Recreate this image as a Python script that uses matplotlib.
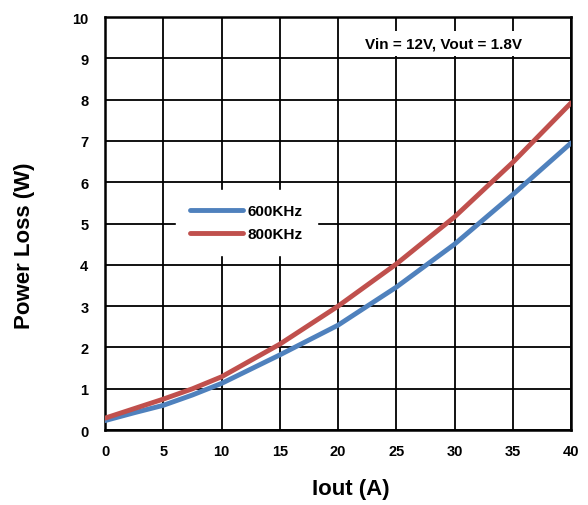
import numpy as np
import matplotlib
matplotlib.use("Agg")
import matplotlib.pyplot as plt

plt.rcParams["font.family"] = ["Liberation Sans", "DejaVu Sans"]
plt.rcParams["font.weight"] = "bold"

# Data
iout = [0, 2.5, 5, 7.5, 10, 15, 20, 25, 30, 35, 40]
loss_600k = [0.23, 0.42, 0.60, 0.85, 1.13, 1.82, 2.54, 3.46, 4.50, 5.70, 6.95]
loss_800k = [0.29, 0.52, 0.75, 1.00, 1.29, 2.08, 3.00, 4.02, 5.16, 6.48, 7.92]

BLUE = "#4F81BD"
RED = "#C0504D"

fig = plt.figure(figsize=(5.88, 5.06), dpi=100)
ax = fig.add_axes([0.1786, 0.148, 0.7925, 0.8164])

ax.plot(iout, loss_600k, color=BLUE, lw=3.5, label="600KHz", solid_capstyle="round", zorder=3)
ax.plot(iout, loss_800k, color=RED, lw=3.5, label="800KHz", solid_capstyle="round", zorder=3)

ax.set_xlim(0, 40)
ax.set_ylim(0, 10)
ax.set_xticks(range(0, 41, 5))
ax.set_yticks(range(0, 11, 1))
ax.tick_params(axis="y", length=0, labelsize=10.5, pad=12)
ax.tick_params(axis="x", length=0, labelsize=10.5, pad=10)
for lab in ax.get_xticklabels() + ax.get_yticklabels():
    lab.set_fontweight("bold")

ax.grid(True, color="black", lw=1.3)
ax.set_axisbelow(True)
for sp in ax.spines.values():
    sp.set_linewidth(1.8)

ax.set_xlabel("Iout (A)", fontsize=16, fontweight="bold")
ax.set_ylabel("Power Loss (W)", fontsize=16, fontweight="bold")
ax.xaxis.set_label_coords(0.528, -0.115)
ax.yaxis.set_label_coords(-0.150, 0.448)

leg = ax.legend(loc="center", bbox_to_anchor=(0.303, 0.502), fontsize=11,
                handlelength=3.5, handletextpad=0.3, frameon=True,
                fancybox=False, borderpad=0.9, labelspacing=0.6)
leg.get_frame().set_facecolor("white")
leg.get_frame().set_edgecolor("white")
leg.get_frame().set_alpha(1)

ax.text(0.727, 0.937, "Vin = 12V, Vout = 1.8V", transform=ax.transAxes,
        ha="center", va="center", fontsize=11, fontweight="bold",
        bbox=dict(facecolor="white", edgecolor="none", pad=4))

fig.savefig("out.png", dpi=100, facecolor="white")
